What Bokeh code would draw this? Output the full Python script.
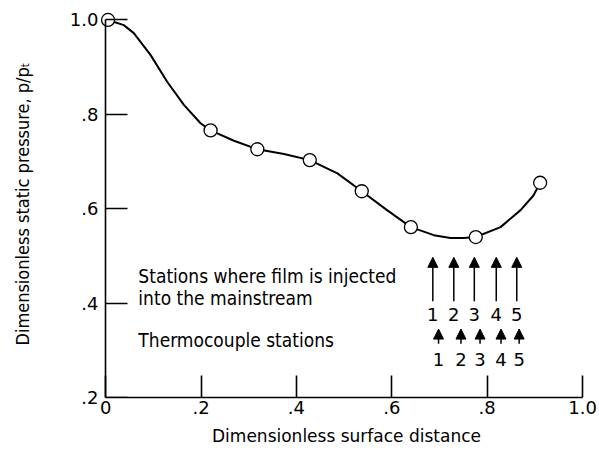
from bokeh.plotting import figure
from bokeh.models import Arrow, NormalHead, FixedTicker, ColumnDataSource, LinearAxis
from bokeh.core.properties import value
from bokeh.embed import file_html
from bokeh.resources import INLINE

# ---- data ----
point_x = [0.005, 0.220, 0.318, 0.428, 0.537, 0.640, 0.776, 0.911]
point_y = [1.000, 0.766, 0.726, 0.703, 0.637, 0.561, 0.540, 0.655]

curve_x = [0.005, 0.038, 0.059, 0.094, 0.129, 0.164, 0.199, 0.220, 0.269, 0.318,
           0.374, 0.428, 0.486, 0.537, 0.590, 0.640, 0.688, 0.723, 0.751, 0.776,
           0.828, 0.870, 0.897, 0.911]
curve_y = [1.000, 0.989, 0.972, 0.926, 0.869, 0.820, 0.781, 0.766, 0.744, 0.726,
           0.716, 0.703, 0.675, 0.637, 0.597, 0.561, 0.544, 0.538, 0.538, 0.540,
           0.561, 0.597, 0.628, 0.655]

x_ticks = [0.0, 0.2, 0.4, 0.6, 0.8, 1.0]
x_tick_labels = ["0", ".2", ".4", ".6", ".8", "1.0"]
y_ticks = [0.2, 0.4, 0.6, 0.8, 1.0]
y_tick_labels = [".2", ".4", ".6", ".8", "1.0"]

station_labels = ["1", "2", "3", "4", "5"]
inject_x = [0.686, 0.730, 0.773, 0.819, 0.862]
inject_tip_y = 0.497
inject_tail_y = 0.404
inject_label_y = 0.376
thermo_x = [0.698, 0.745, 0.785, 0.829, 0.867]
thermo_tip_y = 0.345
thermo_tail_y = 0.314
thermo_label_y = 0.280

note_text = ["Stations where film is injected", "into the mainstream", "Thermocouple stations"]
note_x = [0.0686, 0.0686, 0.0686]
note_y = [0.458, 0.411, 0.321]

x_title = "Dimensionless surface distance"
y_title = "Dimensionless static pressure, p/p\u209c"

FONT = "DejaVu Sans"
FONT_C = "DejaVu Sans Condensed"

p = figure(width=597, height=450, output_backend="svg", toolbar_location=None,
           x_range=(-0.015, 1.025), y_range=(0.2, 1.02),
           min_border_left=98, min_border_right=3, min_border_top=10,
           min_border_bottom=53)
p.outline_line_color = None
p.grid.visible = False
p.background_fill_color = "white"

# x axis
xa = p.xaxis[0]
xa.bounds = (0, 1.0)
xa.ticker = FixedTicker(ticks=x_ticks)
xa.major_label_overrides = dict(zip(x_ticks, x_tick_labels))
xa.major_tick_in = 22
xa.major_tick_out = 0
xa.minor_tick_line_color = None
xa.axis_line_width = 1.6
xa.major_tick_line_width = 1.6
xa.major_label_text_font = FONT
xa.major_label_text_font_size = "18px"
xa.major_label_text_color = "black"
xa.major_label_standoff = 3
xa.axis_label = x_title
xa.axis_label_text_font = FONT
xa.axis_label_text_font_size = "17px"
xa.axis_label_text_font_style = "normal"
xa.axis_label_text_color = "black"
xa.axis_label_standoff = 9

# y axis: labels and title (at frame edge), line hidden
ya = p.yaxis[0]
ya.ticker = FixedTicker(ticks=y_ticks)
ya.major_label_overrides = dict(zip(y_ticks, y_tick_labels))
ya.axis_line_color = None
ya.major_tick_line_color = None
ya.minor_tick_line_color = None
ya.major_tick_out = 0
ya.major_tick_in = 0
ya.major_label_text_font = FONT
ya.major_label_text_font_size = "18px"
ya.major_label_text_color = "black"
ya.major_label_standoff = 0
ya.axis_label = y_title
ya.axis_label_text_font = FONT_C
ya.axis_label_text_font_size = "18px"
ya.axis_label_text_font_style = "normal"
ya.axis_label_text_color = "black"
ya.axis_label_standoff = 34

# y axis line and inward ticks drawn at x = 0
ya2 = LinearAxis(fixed_location=0, bounds=(0.2, 1.0), ticker=FixedTicker(ticks=y_ticks),
                 major_tick_in=22, major_tick_out=0, minor_tick_line_color=None,
                 axis_line_width=1.6, major_tick_line_width=1.6,
                 major_label_text_font_size="0px", major_label_standoff=0,
                 major_label_text_alpha=0)
p.add_layout(ya2, "left")

# curve and points
p.line(curve_x, curve_y, line_color="black", line_width=2, line_join="round")
p.scatter(point_x, point_y, size=13, fill_color="white", line_color="black",
          line_width=1.3)

# notes
p.text(x=note_x, y=note_y, text=note_text, text_font=value(FONT_C),
       text_font_size="19px", text_align="left", text_baseline="middle",
       text_color="black")

# arrows
inj_src = ColumnDataSource(dict(x=inject_x, y0=[inject_tail_y] * 5, y1=[inject_tip_y] * 5))
p.add_layout(Arrow(x_start="x", y_start="y0", x_end="x", y_end="y1", source=inj_src,
                   line_width=1.5, line_color="black",
                   end=NormalHead(size=10, fill_color="black", line_color="black", line_width=1)))
th_src = ColumnDataSource(dict(x=thermo_x, y0=[thermo_tail_y] * 5, y1=[thermo_tip_y] * 5))
p.add_layout(Arrow(x_start="x", y_start="y0", x_end="x", y_end="y1", source=th_src,
                   line_width=1.5, line_color="black",
                   end=NormalHead(size=10, fill_color="black", line_color="black", line_width=1)))

p.text(x=inject_x, y=[inject_label_y] * 5, text=station_labels, text_font=value(FONT),
       text_font_size="18px", text_align="center", text_baseline="middle")
p.text(x=thermo_x, y=[thermo_label_y] * 5, text=station_labels, text_font=value(FONT),
       text_font_size="18px", text_align="center", text_baseline="middle")

open("out.html", "w").write(file_html(p, INLINE))
